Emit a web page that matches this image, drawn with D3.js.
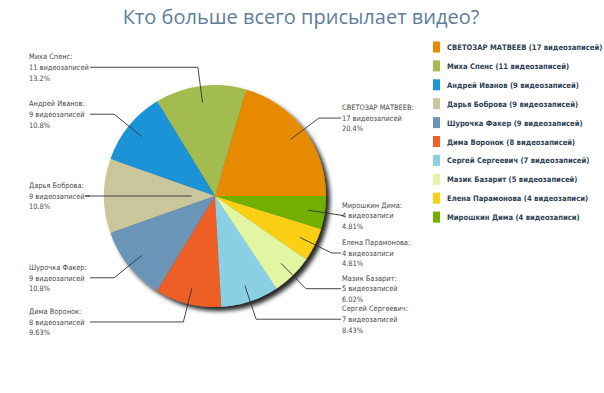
<!DOCTYPE html>
<html lang="ru">
<head>
<meta charset="UTF-8">
<title>Кто больше всего присылает видео?</title>
<script src="https://d3js.org/d3.v7.min.js"></script>
<style>
  body { margin: 0; background: #fff; }
  svg { display: block; }
  .lbl { font-family: "DejaVu Sans Condensed", "DejaVu Sans", sans-serif; font-size: 7.4px; fill: #4a4a4a; }
  .leg { font-family: "DejaVu Sans Condensed", "DejaVu Sans", sans-serif; font-size: 7.6px; font-weight: bold; fill: #2f3f55; }
</style>
</head>
<body>
<div id="chart"></div>
<script>
// data
const names = ["СВЕТОЗАР МАТВЕЕВ", "Миха Спенс", "Андрей Иванов", "Дарья Боброва", "Шурочка Факер",
               "Дима Воронок", "Сергей Сергеевич", "Мазик Базарит", "Елена Парамонова", "Мирошкин Дима"];
const counts = [17, 11, 9, 9, 9, 8, 7, 5, 4, 4];
const units = ["видеозаписей", "видеозаписей", "видеозаписей", "видеозаписей", "видеозаписей",
               "видеозаписей", "видеозаписей", "видеозаписей", "видеозаписи", "видеозаписи"];
const percents = ["20.4%", "13.2%", "10.8%", "10.8%", "10.8%", "9.63%", "8.43%", "6.02%", "4.81%", "4.81%"];
const colors = ["#e68a00", "#a3bc4f", "#1e93d6", "#cac79d", "#6b95b7",
                "#ee5e26", "#8bcfe5", "#e2f5a2", "#fbcf14", "#71af00"];

const W = 604, H = 393;
const cx = 215, cy = 196, R = 111;

const svg = d3.select("#chart").append("svg")
    .attr("width", W).attr("height", H);

// drop shadow for the pie
const defs = svg.append("defs");
const f = defs.append("filter").attr("id", "shadow")
    .attr("x", "-20%").attr("y", "-20%").attr("width", "140%").attr("height", "140%");
f.append("feDropShadow").attr("dx", 4).attr("dy", 4).attr("stdDeviation", 2.2)
    .attr("flood-color", "#000").attr("flood-opacity", 0.85);

svg.append("text")
    .attr("x", 301).attr("y", 24)
    .attr("text-anchor", "middle")
    .style("font-family", "'Open Sans', 'DejaVu Sans', sans-serif")
    .style("font-size", "20px")
    .style("fill", "#5f7d9c")
    .text("Кто больше всего присылает видео?");

const data = names.map((n, i) => ({ name: n, count: counts[i], unit: units[i], pct: percents[i], color: colors[i] }));

// slices run counter-clockwise from 3 o'clock
const pie = d3.pie().value(d => d.count).sort(null)
    .startAngle(Math.PI / 2).endAngle(Math.PI / 2 - 2 * Math.PI);
const arcs = pie(data);
const arc = d3.arc().innerRadius(0).outerRadius(R);

const g = svg.append("g").attr("transform", `translate(${cx},${cy})`);
const slices = g.append("g").attr("filter", "url(#shadow)");
slices.selectAll("path").data(arcs).enter().append("path")
    .attr("d", arc)
    .attr("fill", d => d.data.color);

// leader lines and labels
const outR = 1.17 * R;
const leftX = 90 - cx, rightX = 341 - cx;
const innerTweak = { "Дарья Боброва": 0.21 };
const pt = (a, r) => [r * Math.sin(a), -r * Math.cos(a)];

arcs.forEach(d => {
  const mid = (d.startAngle + d.endAngle) / 2;
  const left = Math.sin(mid) < 0;
  const p0 = pt(mid, (innerTweak[d.data.name] || 0.85) * R);
  const p1 = pt(mid, outR);
  const ex = left ? leftX : rightX;
  g.append("path")
    .attr("d", d3.line()([p0, p1, [ex, p1[1]]]))
    .attr("fill", "none").attr("stroke", "#333").attr("stroke-width", 0.9);

  const tx = left ? ex - 61 : ex + 1;
  const t = g.append("text").attr("class", "lbl")
    .attr("x", tx)
    .attr("y", p1[1] + 2.8);
  [d.data.name + ":", d.data.count + " " + d.data.unit, d.data.pct].forEach((s, k) => {
    t.append("tspan").attr("x", tx).attr("dy", k === 0 ? -10.6 : 10.6).text(s);
  });
});

// legend
const legend = svg.append("g").attr("transform", "translate(433,47)");
const item = legend.selectAll("g").data(data).enter().append("g")
    .attr("transform", (d, i) => `translate(0,${i * 18.9})`);
item.append("rect").attr("x", 0).attr("y", -5.5).attr("width", 7).attr("height", 11)
    .attr("fill", d => d.color);
item.append("text").attr("class", "leg").attr("x", 14).attr("y", 3)
    .text(d => `${d.name} (${d.count} ${d.unit})`);
</script>
</body>
</html>
